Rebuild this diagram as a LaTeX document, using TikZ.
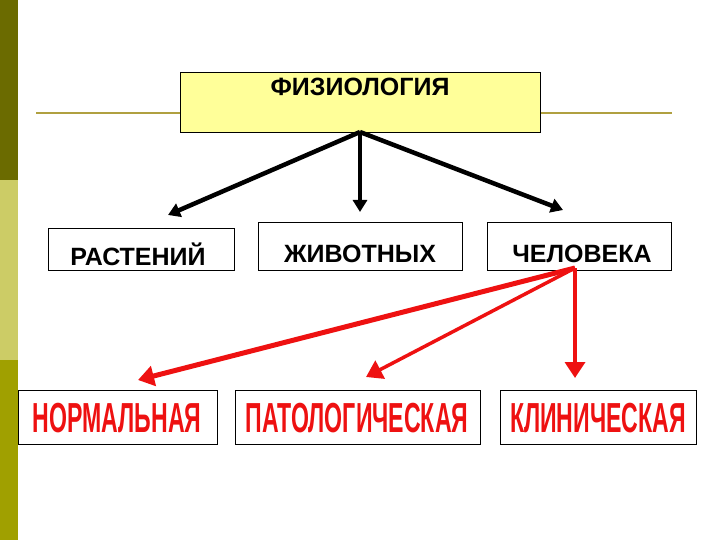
\documentclass[tikz,border=0pt]{standalone}
\usepackage{graphicx}
\usepackage{fontspec}
\setmainfont{Liberation Sans}
\usetikzlibrary{arrows.meta}
\definecolor{olA}{HTML}{6B6B00}
\definecolor{olB}{HTML}{CCCC66}
\definecolor{olC}{HTML}{A0A000}
\definecolor{lineol}{HTML}{B0A040}
\definecolor{boxy}{HTML}{FFFF99}
\definecolor{redt}{HTML}{EE1111}
\begin{document}
\begin{tikzpicture}[x=1pt,y=-1pt,
 box/.style={draw=black,line width=0.8pt,fill=white},
 blk/.style={line width=4.5pt,-{Triangle[length=12pt,width=14pt]}},
 redarr/.style={line width=5pt,draw=redt,-{Triangle[length=16pt,width=20pt]},color=redt},
 bt/.style={font=\bfseries\fontsize{25}{28}\selectfont},
 rt/.style={text=redt,font=\bfseries\fontsize{42}{44}\selectfont}]
\useasboundingbox (0,0) rectangle (720,540);
\fill[white] (0,0) rectangle (720,540);
\fill[olA] (0,0) rectangle (18,180);
\fill[olB] (0,180) rectangle (18,360);
\fill[olC] (0,360) rectangle (18,540);
\draw[lineol,line width=1.5pt] (36,113) -- (672,113);
\draw[box,fill=boxy] (180,72) rectangle (540,132);
\node[bt] (fiz) at (360,87) {ФИЗИОЛОГИЯ};
\coordinate (ftop) at (360,132);
\draw[box] (48,228) rectangle (234,270);
\node[bt] (r) at (138,254) {РАСТЕНИЙ};
\draw[box] (258,222) rectangle (462,270);
\node[bt] (z) at (360,254) {ЖИВОТНЫХ};
\draw[box] (487,222) rectangle (671,270);
\node[bt] (c) at (582,254) {ЧЕЛОВЕКА};
\coordinate (a1) at (168,215);
\coordinate (a2) at (360,212);
\coordinate (a3) at (563,210);
\draw[blk] (ftop) -- (a1);
\draw[blk] (ftop) -- (a2);
\draw[blk] (ftop) -- (a3);
\draw[box] (18,390) rectangle (217,444);
\node[rt] (n) at (117,418) {\scalebox{0.55}[1]{НОРМАЛЬНАЯ}};
\draw[box] (235,390) rectangle (480,444);
\node[rt] (p) at (357,418) {\scalebox{0.55}[1]{ПАТОЛОГИЧЕСКАЯ}};
\draw[box] (500,390) rectangle (696,444);
\node[rt] (k) at (598,418) {\scalebox{0.55}[1]{КЛИНИЧЕСКАЯ}};
\coordinate (cs) at (575,268);
\coordinate (b1) at (138,380);
\coordinate (b2) at (366,377);
\coordinate (b3) at (575,378);
\draw[redarr] (cs) -- (b1);
\draw[redarr,line width=3.5pt] (cs) -- (b2);
\draw[redarr,line width=3.5pt] (cs) -- (b3);
\end{tikzpicture}
\end{document}
